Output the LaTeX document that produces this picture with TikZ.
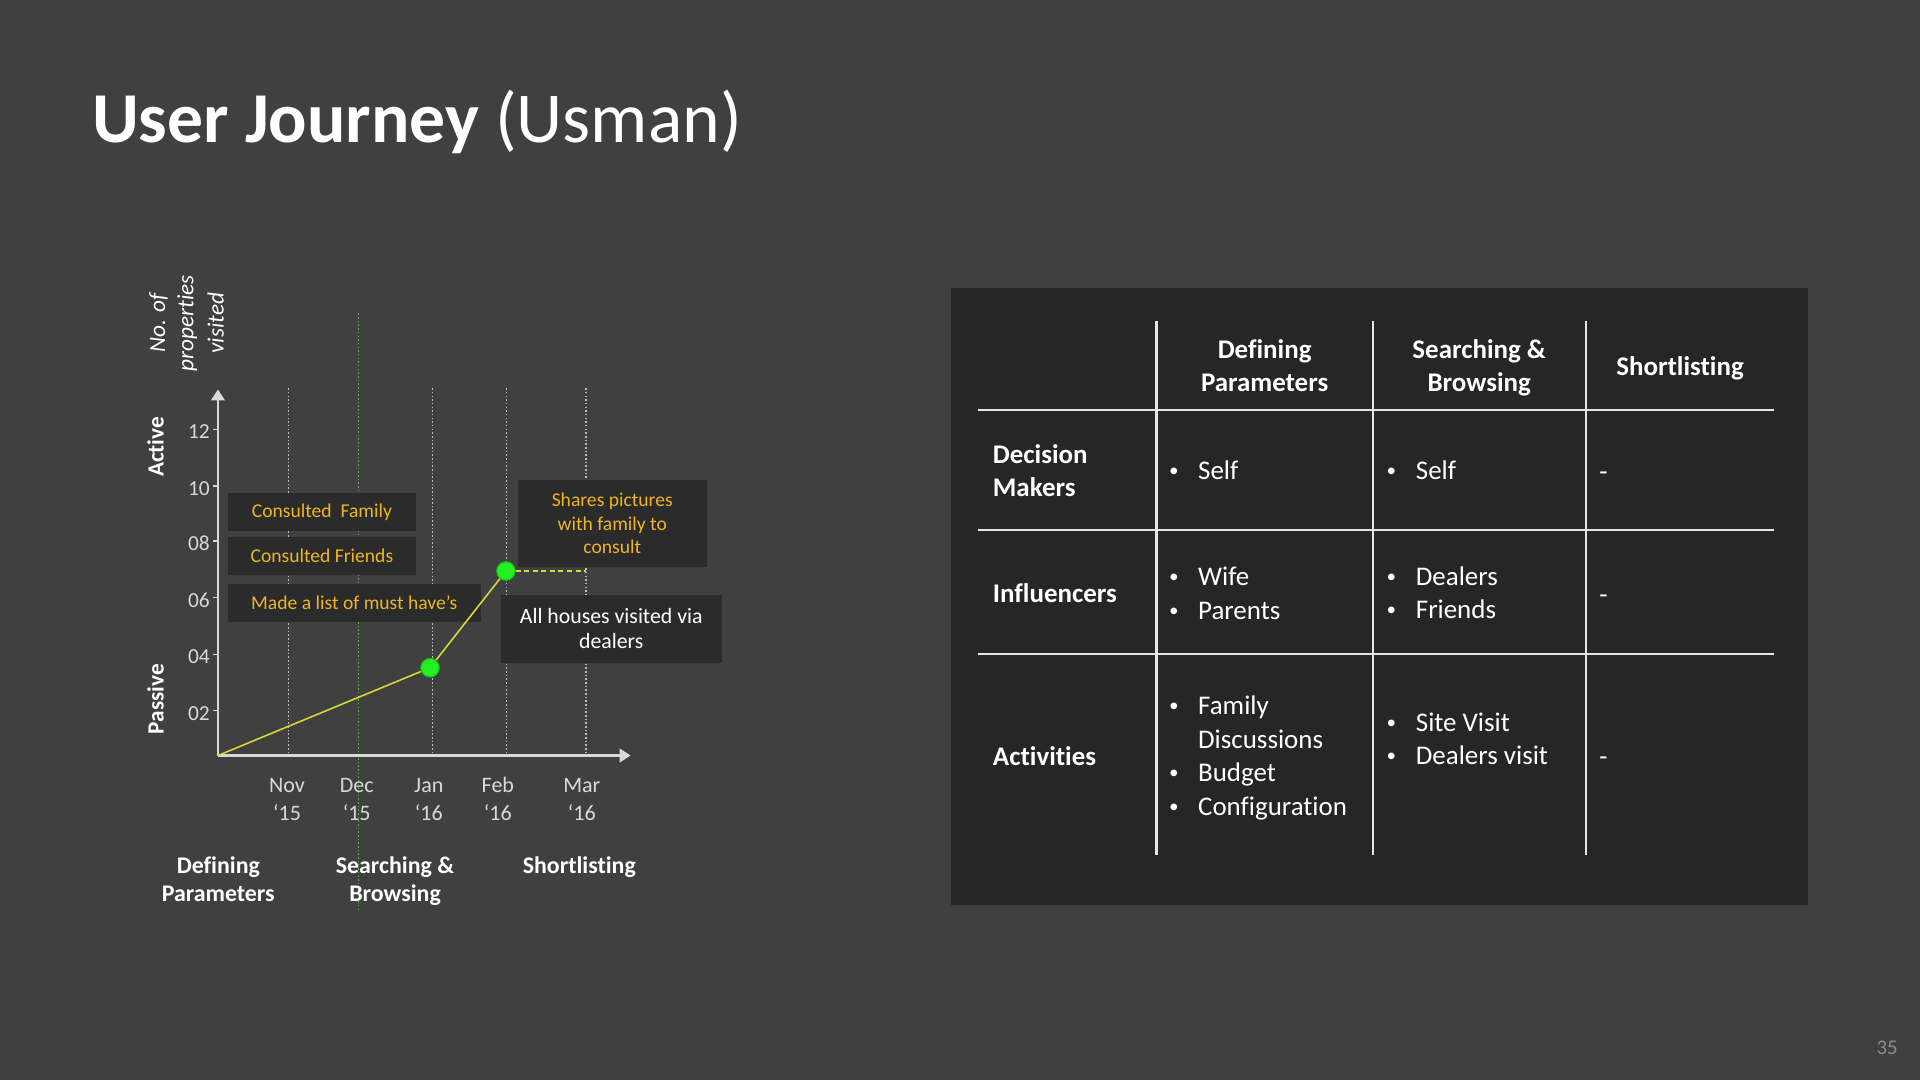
\documentclass[tikz,border=0pt]{standalone}
\usepackage{fontspec}
\setmainfont{Carlito}[Ligatures=NoCommon]
\newfontfamily\bulletfont{Liberation Sans}
\usetikzlibrary{arrows.meta}
\definecolor{bg}{HTML}{404040}
\definecolor{panel}{HTML}{262626}
\definecolor{boxfill}{HTML}{2B2B2B}
\definecolor{gold}{HTML}{EDB527}
\definecolor{yline}{HTML}{D8D838}
\definecolor{axisgray}{HTML}{D9D9D9}
\definecolor{dotgray}{HTML}{BDBDBD}
\definecolor{dotgreen}{HTML}{55B04A}
\definecolor{ptgreen}{HTML}{22F022}
\definecolor{ptedge}{HTML}{1CB81C}
\definecolor{tline}{HTML}{E6E6E6}
\definecolor{pagenum}{HTML}{8C8C8C}
\begin{document}
\begin{tikzpicture}[x=1pt,y=-1pt,
  axisline/.style={draw=axisgray, line width=2.2pt, -{Triangle[width=11pt,length=9pt]}},
  tickline/.style={draw=axisgray, line width=1.2pt},
  vgray/.style={draw=dotgray, line width=0.9pt, dash pattern=on 1.3pt off 1.7pt},
  vgreen/.style={draw=dotgreen, line width=0.9pt, dash pattern=on 1.3pt off 1.7pt},
  trend/.style={draw=yline, line width=1.3pt},
  trenddash/.style={draw=yline, line width=1.2pt, dash pattern=on 4pt off 3pt},
  ptdot/.style={circle, fill=ptgreen, draw=ptedge, line width=0.8pt, minimum size=15pt, inner sep=0pt},
  notebox/.style={fill=boxfill, text=gold, font=\fontsize{16}{19.5}\selectfont, align=center, inner sep=0pt},
  whitebox/.style={fill=boxfill, text=white, font=\fontsize{17.8}{20.4}\selectfont, align=center, inner sep=0pt},
  ticklabel/.style={text=axisgray, font=\fontsize{17.5}{21}\selectfont, anchor=east, inner sep=0pt},
  monthlabel/.style={text=axisgray, font=\fontsize{18}{22}\selectfont, anchor=base, inner sep=0pt},
  phaselabel/.style={text=white, font=\bfseries\fontsize{19.5}{24}\selectfont, anchor=base, inner sep=0pt},
  sidelabel/.style={text=white, font=\bfseries\fontsize{19}{23}\selectfont, rotate=90, inner sep=0pt},
  ylabel/.style={text=white, font=\itshape\fontsize{19}{23}\selectfont, rotate=90, inner sep=0pt},
  cell/.style={text=white, font=\fontsize{22}{27}\selectfont, anchor=base west, inner sep=0pt},
  bulletmark/.style={text=white, font=\bulletfont\fontsize{20}{27}\selectfont, anchor=base west, inner sep=0pt},
  cellb/.style={text=white, font=\bfseries\fontsize{22}{27}\selectfont, anchor=base west, inner sep=0pt},
  headb/.style={text=white, font=\bfseries\fontsize{22}{27}\selectfont, anchor=base, inner sep=0pt},
  gridline/.style={draw=tline, line width=1.8pt}
]
% background
\fill[bg] (0,0) rectangle (1568,882);
\useasboundingbox (0,0) rectangle (1568,882);

% title
\node[anchor=base west, inner sep=0pt, text=white, font=\fontsize{58.5}{70}\selectfont] (title) at (75,116) {\bfseries User Journey\mdseries\ (Usman)};

% ---------------- chart ----------------
\coordinate (O) at (178,617);
\coordinate (ytip) at (178,318);
\coordinate (xtip) at (515,617);

% vertical guides
\coordinate (g1t) at (235.7,317); \coordinate (g1b) at (235.7,617);
\coordinate (g3t) at (353,317);   \coordinate (g3b) at (353,617);
\coordinate (g4t) at (413.4,317); \coordinate (g4b) at (413.4,617);
\coordinate (g5t) at (478.6,317); \coordinate (g5b) at (478.6,617);
\coordinate (g2t) at (292.6,256); \coordinate (g2b) at (292.6,743);
\draw[vgray] (g1t) -- (g1b);
\draw[vgray] (g3t) -- (g3b);
\draw[vgray] (g4t) -- (g4b);
\draw[vgray] (g5t) -- (g5b);
\draw[vgreen] (g2t) -- (g2b);

% note boxes
\node[notebox, minimum width=153.7pt, minimum height=30.8pt] (nfam) at (262.9,418.3) {Consulted\ \ Family};
\node[notebox, minimum width=153.7pt, minimum height=31.3pt] (nfri) at (262.9,454) {Consulted Friends};
\node[notebox, minimum width=206.6pt, minimum height=30.7pt] (nlist) at (289.3,492.4) {Made a list of must have’s};
\node[notebox, minimum width=154.3pt, minimum height=70.8pt] (nshare) at (500,427.4) {Shares pictures\\with family to\\consult};
\node[whitebox, minimum width=180.5pt, minimum height=55.2pt] (nhouse) at (499.2,513.6) {All houses visited via\\dealers};

% axes
\draw[axisline] (O) -- (ytip);
\draw[axisline] (O) -- (xtip);

% ticks and labels
\foreach \v/\yy in {12/350.6,10/396.9,08/442,06/488,04/534.4,02/580.4}{
  \coordinate (tk\v) at (174,\yy);
  \coordinate (tkr\v) at (178,\yy);
  \draw[tickline] (tk\v) -- (tkr\v);
  \node[ticklabel] (tl\v) at (171.5,\yy+2) {\v};
}

% side labels
\node[sidelabel] (active) at (127,365) {Active};
\node[sidelabel] (passive) at (127,571) {Passive};
\node[ylabel] (yl1) at (129.5,264) {No. of};
\node[ylabel] (yl2) at (153,264) {properties};
\node[ylabel] (yl3) at (176,264) {visited};

% trend line
\node[ptdot] (p2) at (413.2,466.3) {};
\coordinate (dashend) at (478.6,466.3);
\draw[trenddash] (p2) -- (dashend);
\node[ptdot] (p1) at (351.2,545.3) {};
\draw[trend] (O) -- (p1) -- (p2);
\node[ptdot] at (p1) {};
\node[ptdot] at (p2) {};

% month labels
\node[monthlabel] (m1a) at (234.4,647) {Nov};  \node[monthlabel] (m1b) at (234.4,669.7) {‘15};
\node[monthlabel] (m2a) at (291.3,647) {Dec};  \node[monthlabel] (m2b) at (291.3,669.7) {‘15};
\node[monthlabel] (m3a) at (350.2,647) {Jan};  \node[monthlabel] (m3b) at (350.2,669.7) {‘16};
\node[monthlabel] (m4a) at (406.6,647) {Feb};  \node[monthlabel] (m4b) at (406.6,669.7) {‘16};
\node[monthlabel] (m5a) at (475.2,647) {Mar};  \node[monthlabel] (m5b) at (475.2,669.7) {‘16};

% phase labels
\node[phaselabel] (ph1a) at (178.3,713.2) {Defining};
\node[phaselabel] (ph1b) at (178.3,736.4) {Parameters};
\node[phaselabel] (ph2a) at (322.6,713.2) {Searching \&};
\node[phaselabel] (ph2b) at (322.6,736.4) {Browsing};
\node[phaselabel] (ph3a) at (473.1,713.2) {Shortlisting};

% ---------------- table ----------------
\fill[panel] (777,235.5) rectangle (1476.8,739);

\coordinate (v1t) at (944.5,261.8);  \coordinate (v1b) at (944.5,698.2);
\coordinate (v2t) at (1121.5,261.8); \coordinate (v2b) at (1121.5,698.2);
\coordinate (v3t) at (1295.2,261.8); \coordinate (v3b) at (1295.2,698.2);
\coordinate (h1l) at (798.7,334.8);  \coordinate (h1r) at (1449,334.8);
\coordinate (h2l) at (798.7,432.8);  \coordinate (h2r) at (1449,432.8);
\coordinate (h3l) at (798.7,534.3);  \coordinate (h3r) at (1449,534.3);
\draw[gridline] (v1t) -- (v1b);
\draw[gridline] (v2t) -- (v2b);
\draw[gridline] (v3t) -- (v3b);
\draw[gridline] (h1l) -- (h1r);
\draw[gridline] (h2l) -- (h2r);
\draw[gridline] (h3l) -- (h3r);

% headers
\node[headb] (hd1a) at (1032.8,292.6) {Defining};
\node[headb] (hd1b) at (1032.8,320) {Parameters};
\node[headb] (hd2a) at (1208,292.6) {Searching \&};
\node[headb] (hd2b) at (1208,319.5) {Browsing};
\node[headb] (hd3) at (1372,306.9) {Shortlisting};

% row labels
\node[cellb] (r1a) at (810.7,378.4) {Decision};
\node[cellb] (r1b) at (810.7,405.6) {Makers};
\node[cellb] (r2) at (810.7,492) {Influencers};
\node[cellb] (r3) at (810.7,625) {Activities};

% column 1
\foreach \nm/\yy/\tx in {c1a/391.8/Self, c1b/478.5/Wife, c1c/505.7/Parents, c1d/583.9/Family, c1f/638.5/Budget, c1g/666/Configuration}{
  \node[bulletmark] (\nm b) at (955,\yy) {•};
  \node[cell] (\nm) at (978.3,\yy) {\tx};
}
\node[cell] (c1e) at (978.3,611.2) {Discussions};

% column 2
\foreach \nm/\yy/\tx in {c2a/391.8/Self, c2b/478.2/Dealers, c2c/505.4/Friends, c2d/597/Site Visit, c2e/624.2/Dealers visit}{
  \node[bulletmark] (\nm b) at (1132.6,\yy) {•};
  \node[cell] (\nm) at (1156.1,\yy) {\tx};
}

% column 3
\node[cell] (c3a) at (1306,392.5) {-};
\node[cell] (c3b) at (1306,493) {-};
\node[cell] (c3c) at (1306,625.5) {-};

% page number
\node[text=pagenum, font=\fontsize{17}{20}\selectfont, anchor=base east, inner sep=0pt] (pn) at (1550,861) {35};
\end{tikzpicture}
\end{document}
